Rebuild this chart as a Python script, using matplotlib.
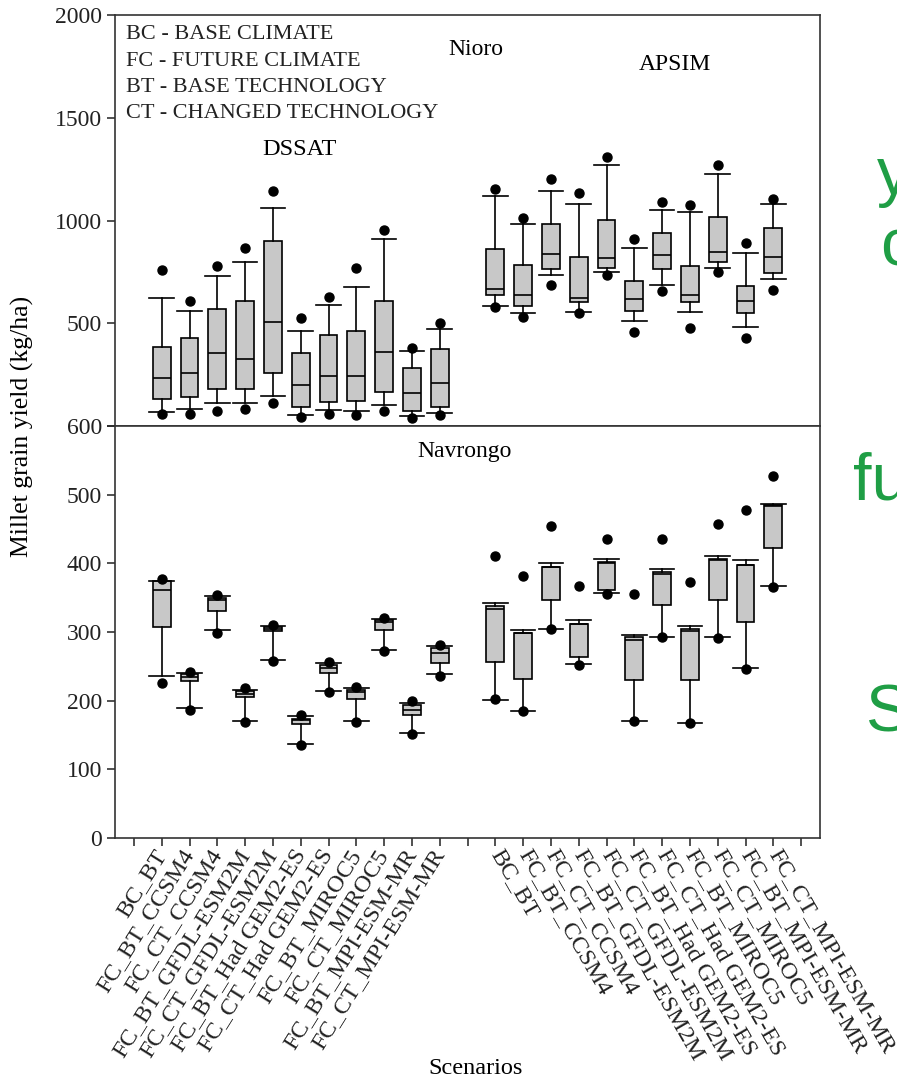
import matplotlib.pyplot as plt

plt.rcParams['font.family'] = ['Liberation Serif', 'DejaVu Serif']

scenarios = ['BC_BT', 'FC_BT_CCSM4', 'FC_CT_CCSM4', 'FC_BT_GFDL-ESM2M', 'FC_CT_GFDL-ESM2M',
             'FC_BT_Had GEM2-ES', 'FC_CT_Had GEM2-ES', 'FC_BT_MIROC5', 'FC_CT_MIROC5',
             'FC_BT_MPI-ESM-MR', 'FC_CT_MPI-ESM-MR']

# Nioro: 11 DSSAT scenarios then 11 APSIM scenarios
nioro_dot_lo = [58, 58, 75, 81, 110, 42, 58, 54, 75, 40, 54,
                578, 532, 685, 549, 734, 456, 657, 476, 750, 427, 662]
nioro_whislo = [70, 84, 110, 110, 146, 55, 78, 75, 102, 49, 62,
                584, 549, 735, 553, 748, 511, 685, 553, 771, 484, 714]
nioro_q1 = [131, 143, 180, 180, 256, 91, 115, 123, 167, 75, 94,
            638, 584, 763, 602, 768, 560, 763, 602, 797, 549, 747]
nioro_med = [235, 256, 354, 326, 505, 200, 243, 243, 362, 159, 208,
             665, 638, 839, 625, 816, 617, 831, 636, 846, 609, 824]
nioro_q3 = [386, 430, 568, 609, 902, 354, 443, 463, 609, 284, 373,
            860, 784, 984, 824, 1003, 706, 941, 781, 1018, 683, 962]
nioro_whishi = [625, 560, 729, 797, 1060, 463, 589, 678, 909, 367, 471,
                1117, 984, 1144, 1081, 1269, 865, 1052, 1039, 1225, 844, 1081]
nioro_dot_hi = [760, 610, 779, 868, 1146, 524, 630, 771, 954, 381, 500,
                1154, 1011, 1201, 1136, 1310, 910, 1089, 1076, 1271, 889, 1104]

# Navrongo
nav_dot_lo = [225, 187, 299, 169, 258, 135, 212, 169, 273, 151, 236,
              202, 185, 304, 252, 355, 171, 292, 167, 291, 246, 366]
nav_whislo = [236, 189, 303, 170, 259, 137, 214, 170, 274, 153, 239,
              201, 185, 305, 253, 357, 171, 293, 168, 292, 247, 367]
nav_q1 = [307, 228, 331, 206, 301, 166, 240, 203, 303, 179, 255,
          257, 232, 346, 263, 361, 230, 340, 230, 346, 315, 423]
nav_med = [361, 235, 346, 210, 305, 172, 248, 213, 315, 187, 270,
           334, 298, 395, 311, 401, 289, 385, 302, 405, 398, 483]
nav_q3 = [374, 239, 349, 214, 307, 174, 252, 215, 317, 194, 277,
          338, 299, 395, 312, 402, 292, 388, 305, 406, 398, 485]
nav_whishi = [375, 241, 353, 216, 309, 178, 255, 218, 319, 197, 279,
              342, 303, 401, 317, 407, 296, 392, 309, 411, 405, 487]
nav_dot_hi = [377, 242, 354, 218, 310, 179, 256, 220, 321, 199, 281,
              411, 381, 454, 367, 436, 355, 436, 373, 458, 477, 527]

positions = list(range(1, 12)) + list(range(13, 24))


def make_stats(dot_lo, whislo, q1, med, q3, whishi, dot_hi):
    stats = []
    for i in range(len(med)):
        stats.append({'whislo': whislo[i], 'q1': q1[i], 'med': med[i],
                      'q3': q3[i], 'whishi': whishi[i],
                      'fliers': [dot_lo[i], dot_hi[i]]})
    return stats


def draw_boxes(ax, stats):
    lw = 1.2
    ax.bxp(stats, positions=positions, widths=0.64, capwidths=0.88,
           patch_artist=True,
           boxprops=dict(facecolor='#c8c8c8', edgecolor='black', linewidth=lw),
           medianprops=dict(color='black', linewidth=lw),
           whiskerprops=dict(color='black', linewidth=lw),
           capprops=dict(color='black', linewidth=lw),
           flierprops=dict(marker='o', markerfacecolor='black',
                           markeredgecolor='black', markersize=6.5,
                           linestyle='none'))


fig = plt.figure(figsize=(8.97, 10.86), dpi=100)
ax_top = fig.add_axes([0.1282, 0.6077, 0.786, 0.3785])
ax_bot = fig.add_axes([0.1282, 0.2284, 0.786, 0.3793])

draw_boxes(ax_top, make_stats(nioro_dot_lo, nioro_whislo, nioro_q1, nioro_med,
                              nioro_q3, nioro_whishi, nioro_dot_hi))
draw_boxes(ax_bot, make_stats(nav_dot_lo, nav_whislo, nav_q1, nav_med,
                              nav_q3, nav_whishi, nav_dot_hi))

tick_labels = [''] + scenarios + [''] + scenarios + ['']
for ax in (ax_top, ax_bot):
    ax.set_xlim(-0.68, 24.68)
    ax.set_xticks(range(25))
    for sp in ax.spines.values():
        sp.set_linewidth(1.2)
        sp.set_color('#333333')
    ax.tick_params(direction='out', length=6, width=1.1, labelsize=17, colors='#222222')

ax_top.set_ylim(0, 2000)
ax_top.set_yticks([0, 500, 1000, 1500, 2000])
ax_top.set_yticklabels(['', '500', '1000', '1500', '2000'])
ax_top.tick_params(axis='x', labelbottom=False)

ax_bot.set_ylim(0, 600)
ax_bot.set_yticks(range(0, 700, 100))
ax_bot.set_xticklabels(tick_labels)
for i, lab in enumerate(ax_bot.get_xticklabels()):
    lab.set_fontsize(17.5)
    lab.set_rotation_mode('anchor')
    if i < 12:
        lab.set_rotation(58)
        lab.set_ha('right')
        lab.set_va('center')
    else:
        lab.set_rotation(-60)
        lab.set_ha('left')
        lab.set_va('center')

legend_lines = ['BC - BASE CLIMATE', 'FC - FUTURE CLIMATE',
                'BT - BASE TECHNOLOGY', 'CT - CHANGED TECHNOLOGY']
for k, line in enumerate(legend_lines):
    ax_top.text(0.0156, 0.952 - k * 0.064, line, transform=ax_top.transAxes,
                fontsize=16, va='center', ha='left', color='#222222')

ax_top.text(0.512, 0.915, 'Nioro', transform=ax_top.transAxes, fontsize=17,
            ha='center', va='center')
ax_top.text(0.794, 0.88, 'APSIM', transform=ax_top.transAxes, fontsize=17,
            ha='center', va='center')
ax_top.text(0.262, 0.672, 'DSSAT', transform=ax_top.transAxes, fontsize=17.5,
            ha='center', va='center')
ax_bot.text(0.496, 0.937, 'Navrongo', transform=ax_bot.transAxes, fontsize=17,
            ha='center', va='center')

fig.text(22 / 897, 1 - 426 / 1086, 'Millet grain yield (kg/ha)', rotation=90,
         fontsize=18.5, ha='center', va='center')
fig.text(476 / 897, 1 - 1068 / 1086, 'Scenarios', fontsize=17.5,
         ha='center', va='center')

# clipped slide text on the right edge
green = '#1f9e45'
for s, x, yb in [('y', 877, 194), ('c', 880, 266), ('fu', 853, 500), ('S', 865, 732)]:
    fig.text(x / 897, 1 - yb / 1086, s, fontsize=48, color=green,
             family='Liberation Sans', ha='left', va='baseline')

fig.savefig('out.png', dpi=100)
